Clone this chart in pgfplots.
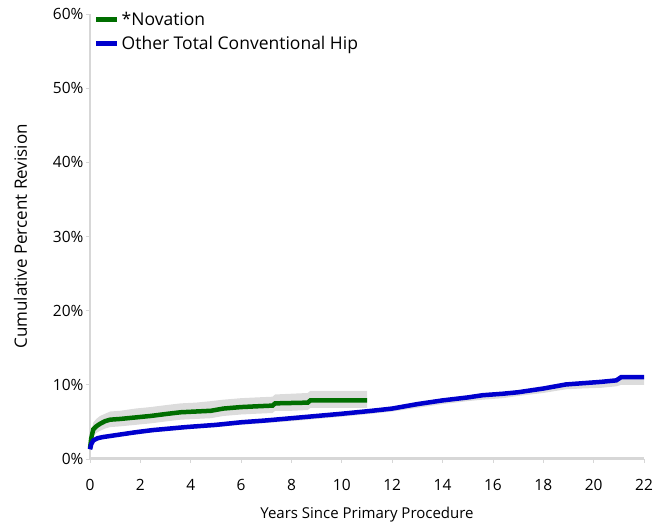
\documentclass[border=0pt]{standalone}
\usepackage{pgfplots}
\pgfplotsset{compat=1.18}
\usepgfplotslibrary{fillbetween}
\usetikzlibrary{calc}
\usepackage{fontspec}
\setmainfont{Open Sans}

\definecolor{novgreen}{RGB}{0,110,0}
\definecolor{othblue}{RGB}{0,0,205}
\definecolor{band}{RGB}{220,220,220}
\definecolor{axgray}{RGB}{215,215,215}

% year, cumulative percent revision, lower CI, upper CI
\pgfplotstableread{
x y lo hi
0 1.4 1.0 1.8
0.05 2.8 2.0 3.6
0.13 4.0 3.1 4.9
0.25 4.4 3.5 5.4
0.4 4.75 3.8 5.8
0.6 5.1 4.1 6.1
0.8 5.3 4.3 6.4
1.2 5.4 4.4 6.5
1.8 5.6 4.6 6.8
2.4 5.8 4.8 7.0
3.1 6.1 5.1 7.3
3.6 6.3 5.3 7.5
4.2 6.4 5.4 7.6
4.8 6.5 5.5 7.8
5.3 6.8 5.8 8.0
6.0 7.0 6.0 8.2
6.6 7.1 6.1 8.3
7.25 7.2 6.2 8.4
7.35 7.5 6.5 8.7
8.0 7.55 6.5 8.8
8.65 7.6 6.6 8.9
8.75 7.9 6.9 9.2
11.0 7.9 6.9 9.2
}\novation

\pgfplotstableread{
x y lo hi
0 1.3 1.1 1.5
0.05 2.0 1.8 2.2
0.13 2.5 2.3 2.7
0.3 2.8 2.6 3.0
0.5 2.95 2.75 3.15
1.0 3.2 3.0 3.4
1.8 3.6 3.3 3.8
2.5 3.9 3.6 4.1
3.8 4.3 4.0 4.5
5.0 4.6 4.3 4.8
6.0 4.95 4.6 5.15
7.0 5.2 4.85 5.4
8.0 5.5 5.1 5.7
9.0 5.8 5.4 6.0
10.0 6.1 5.7 6.3
11.2 6.5 6.1 6.7
12.0 6.8 6.4 7.0
13.0 7.4 6.9 7.6
14.0 7.9 7.4 8.1
15.0 8.3 7.8 8.5
15.6 8.6 8.0 8.8
16.4 8.8 8.2 9.0
17.0 9.0 8.5 9.2
18.0 9.5 8.9 9.7
18.9 10.05 9.4 10.25
19.5 10.2 9.5 10.4
20.3 10.4 9.6 10.6
20.9 10.6 9.8 10.8
21.1 11.05 10.0 11.25
22.0 11.05 10.0 11.25
}\otherhip

\begin{document}
\begin{tikzpicture}
\begin{axis}[
  scale only axis,
  width=554pt, height=445pt,
  xmin=0, xmax=22, ymin=0, ymax=60,
  xtick={0,2,...,22},
  ytick={0,10,...,60},
  yticklabel={\pgfmathprintnumber{\tick}\%},
  /pgf/number format/assume math mode=true,
  axis x line=bottom, axis y line=left,
  x axis line style={-, draw=axgray, line width=3pt},
  y axis line style={-, draw=axgray, line width=1.5pt},
  tick style={draw=axgray, line width=0.8pt},
  major tick length=4pt,
  tick align=outside,
  ticklabel style={font=\fontsize{15.5}{18}\selectfont},
  xticklabel style={yshift=-13pt},
  yticklabel style={xshift=1pt},
  xlabel={Years Since Primary Procedure},
  ylabel={Cumulative Percent Revision},
  xlabel style={font=\fontsize{15}{18}\selectfont, yshift=-9pt},
  ylabel style={font=\fontsize{17}{20}\selectfont, yshift=19pt},
  legend style={at={(0,1)}, anchor=north west, draw=none, fill=none,
    font=\fontsize{17.5}{21}\selectfont, xshift=3pt, yshift=5pt,
    row sep=5pt, inner sep=1pt},
  legend cell align=left,
  legend image code/.code={\draw[line width=4.5pt] (0pt,0pt) -- (21pt,0pt);},
  clip=false,
]
\coordinate (ll) at (rel axis cs:0,0);
\coordinate (ur) at (rel axis cs:1,1);
\addplot[draw=none, name path=gu, forget plot] table[x=x, y=hi] {\novation};
\addplot[draw=none, name path=gl, forget plot] table[x=x, y=lo] {\novation};
\addplot[fill=band, draw=none, forget plot] fill between[of=gu and gl];
\addplot[draw=none, name path=bu, forget plot] table[x=x, y=hi] {\otherhip};
\addplot[draw=none, name path=bl, forget plot] table[x=x, y=lo] {\otherhip};
\addplot[fill=band, draw=none, forget plot] fill between[of=bu and bl];
\addplot[novgreen, line width=4.5pt, mark=none] table[x=x, y=y] {\novation};
\addlegendentry{*Novation}
\addplot[othblue, line width=4.5pt, mark=none] table[x=x, y=y] {\otherhip};
\addlegendentry{Other Total Conventional Hip}
\end{axis}
\pgfresetboundingbox
\path[use as bounding box] ($(ll)+(-90pt,-69pt)$) rectangle ($(ur)+(26pt,14pt)$);
\end{tikzpicture}
\end{document}
